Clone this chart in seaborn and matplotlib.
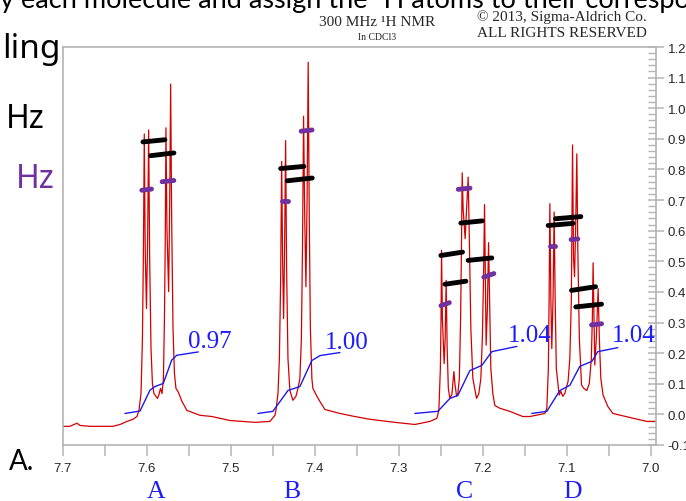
import numpy as np
import pandas as pd
import matplotlib
matplotlib.use("Agg")
import matplotlib.pyplot as plt
from matplotlib.ticker import MultipleLocator
import seaborn as sns

# ---------------- data ----------------
# spectrum trace (ppm, intensity), left to right
base_left_ppm = [7.7000, 7.6917, 7.6869, 7.6833, 7.6798, 7.6679, 7.6405, 7.6321, 7.6238, 7.6167, 7.6119]
base_left_int = [-0.039, -0.039, -0.033, -0.029, -0.036, -0.039, -0.039, -0.033, -0.023, -0.016, -0.007]

grpA_ppm = [7.6095, 7.6071, 7.6054, 7.6042, 7.6032, 7.6021, 7.6006, 7.5992, 7.5980, 7.5968, 7.5952,
            7.5935, 7.5917, 7.5893, 7.5875, 7.5857, 7.5839, 7.5821, 7.5804, 7.5792, 7.5782, 7.5774,
            7.5762, 7.5742, 7.5729, 7.5718, 7.5706, 7.5690, 7.5673, 7.5655, 7.5631, 7.5607, 7.5583,
            7.5524, 7.5369, 7.5226, 7.5012, 7.4714, 7.4536, 7.4476]
grpA_int = [0.013, 0.068, 0.248, 0.541, 0.916, 0.541, 0.346, 0.574, 0.929, 0.509, 0.215,
            0.101, 0.068, 0.059, 0.052, 0.065, 0.085, 0.068, 0.117, 0.313, 0.574, 0.936,
            0.606, 0.401, 0.704, 1.079, 0.639, 0.280, 0.134, 0.085, 0.075, 0.059, 0.042,
            0.013, -0.003, -0.007, -0.020, -0.026, -0.023, -0.003]

grpB_ppm = [7.4464, 7.4440, 7.4423, 7.4408, 7.4396, 7.4385, 7.4373, 7.4361, 7.4349, 7.4337, 7.4321,
            7.4298, 7.4262, 7.4226, 7.4202, 7.4179, 7.4161, 7.4148, 7.4135, 7.4121, 7.4107, 7.4093,
            7.4080, 7.4067, 7.4054, 7.4036, 7.4024, 7.3976, 7.3940, 7.3881, 7.3702, 7.3524, 7.3345,
            7.3048, 7.2810, 7.2631, 7.2548]
grpB_int = [0.013, 0.068, 0.183, 0.443, 0.826, 0.509, 0.313, 0.541, 0.894, 0.476, 0.183,
            0.078, 0.046, 0.059, 0.085, 0.117, 0.248, 0.541, 0.974, 0.639, 0.417, 0.704,
            1.150, 0.639, 0.280, 0.117, 0.085, 0.059, 0.042, 0.016, 0.003, -0.007, -0.016,
            -0.026, -0.033, -0.023, -0.013]

grpC_ppm = [7.2524, 7.2506, 7.2498, 7.2492, 7.2482, 7.2461, 7.2449, 7.2437, 7.2425, 7.2411, 7.2393,
            7.2369, 7.2357, 7.2345, 7.2333, 7.2313, 7.2298, 7.2280, 7.2265, 7.2255, 7.2246, 7.2235,
            7.2211, 7.2187, 7.2175, 7.2163, 7.2143, 7.2119, 7.2075, 7.2048, 7.2024, 7.2006, 7.1990,
            7.1980, 7.1970, 7.1961, 7.1946, 7.1932, 7.1920, 7.1905, 7.1881, 7.1857, 7.1798, 7.1679,
            7.1524, 7.1440, 7.1262]
grpC_int = [0.013, 0.150, 0.313, 0.536, 0.313, 0.166, 0.248, 0.438, 0.215, 0.085, 0.052,
            0.065, 0.101, 0.140, 0.101, 0.059, 0.068, 0.117, 0.313, 0.541, 0.789, 0.672,
            0.574, 0.704, 0.775, 0.606, 0.280, 0.117, 0.052, 0.068, 0.117, 0.248, 0.476,
            0.685, 0.443, 0.226, 0.346, 0.561, 0.378, 0.150, 0.068, 0.029, 0.020, 0.010,
            -0.007, -0.007, 0.003]

grpD_ppm = [7.1238, 7.1220, 7.1211, 7.1202, 7.1190, 7.1179, 7.1164, 7.1151, 7.1139, 7.1125, 7.1092,
            7.1071, 7.1048, 7.1024, 7.0985, 7.0964, 7.0946, 7.0932, 7.0920, 7.0908, 7.0895, 7.0881,
            7.0869, 7.0851, 7.0825, 7.0798, 7.0762, 7.0732, 7.0708, 7.0696, 7.0687, 7.0676, 7.0667,
            7.0649, 7.0627, 7.0613, 7.0595, 7.0568, 7.0512, 7.0452, 7.0250, 7.0048, 6.9938]
grpD_int = [0.020, 0.150, 0.378, 0.688, 0.378, 0.215, 0.378, 0.661, 0.378, 0.150, 0.063,
            0.075, 0.059, 0.068, 0.108, 0.183, 0.378, 0.880, 0.509, 0.450, 0.606, 0.851,
            0.541, 0.248, 0.096, 0.085, 0.078, 0.101, 0.183, 0.313, 0.495, 0.313, 0.161,
            0.248, 0.411, 0.248, 0.117, 0.063, 0.026, 0.003, -0.010, -0.023, -0.023]

# integral curves
intA_ppm = [7.6262, 7.6083, 7.5964, 7.5905, 7.5806, 7.5706, 7.5646, 7.5389]
intA_val = [0.003, 0.011, 0.079, 0.091, 0.101, 0.177, 0.193, 0.204]
intB_ppm = [7.4679, 7.4500, 7.4321, 7.4179, 7.4036, 7.3940, 7.3702]
intB_val = [0.003, 0.010, 0.078, 0.091, 0.176, 0.192, 0.202]
intC_ppm = [7.2810, 7.2536, 7.2393, 7.2298, 7.2155, 7.2012, 7.1893, 7.1595]
intC_val = [0.003, 0.010, 0.052, 0.062, 0.143, 0.160, 0.205, 0.222]
intD_ppm = [7.1417, 7.1238, 7.1083, 7.0964, 7.0845, 7.0702, 7.0631, 7.0393]
intD_val = [0.003, 0.010, 0.078, 0.095, 0.157, 0.173, 0.205, 0.218]

int_labels = ["0.97", "1.00", "1.04", "1.04"]
int_label_ppm = [7.5512, 7.3881, 7.1702, 7.0464]
int_label_val = [0.241, 0.238, 0.258, 0.258]

# hand-drawn black dashes (start ppm, start val, end ppm, end val)
dash_x0 = [7.6048, 7.5956, 7.4408, 7.4330, 7.2500, 7.2452, 7.2262, 7.2175, 7.1222, 7.1135, 7.0944, 7.0893]
dash_y0 = [0.890, 0.845, 0.803, 0.763, 0.519, 0.425, 0.625, 0.503, 0.617, 0.639, 0.405, 0.351]
dash_x1 = [7.5786, 7.5679, 7.4131, 7.4032, 7.2242, 7.2202, 7.2008, 7.1893, 7.0925, 7.0833, 7.0658, 7.0587]
dash_y1 = [0.897, 0.854, 0.810, 0.772, 0.530, 0.435, 0.632, 0.511, 0.624, 0.646, 0.417, 0.360]

# hand-drawn purple marks
mark_x0 = [7.6062, 7.5820, 7.4164, 7.4389, 7.2293, 7.2499, 7.1989, 7.1205, 7.0949, 7.0706]
mark_y0 = [0.732, 0.760, 0.925, 0.697, 0.735, 0.355, 0.448, 0.551, 0.571, 0.292]
mark_x1 = [7.5946, 7.5680, 7.4034, 7.4319, 7.2153, 7.2399, 7.1869, 7.1135, 7.0869, 7.0586]
mark_y1 = [0.736, 0.764, 0.929, 0.697, 0.739, 0.365, 0.460, 0.551, 0.573, 0.296]

x_tick_vals = [7.7, 7.6, 7.5, 7.4, 7.3, 7.2, 7.1, 7.0]
y_tick_vals = [-0.1, 0.0, 0.1, 0.2, 0.3, 0.4, 0.5, 0.6, 0.7, 0.8, 0.9, 1.0, 1.1, 1.2]
group_letters = ["A", "B", "C", "D"]
group_letter_ppm = [7.5893, 7.4274, 7.2214, 7.0929]

# ---------------- drawing ----------------
sns.set_style("white")
plt.rcParams['font.family'] = ['Liberation Sans', 'DejaVu Sans']

fig = plt.figure(figsize=(6.86, 5.02), dpi=100)
ax = fig.add_axes([63/686, 1-446/502, 593/686, 398/502])

spec = pd.DataFrame({
    "ppm": base_left_ppm + grpA_ppm + grpB_ppm + grpC_ppm + grpD_ppm,
    "intensity": base_left_int + grpA_int + grpB_int + grpC_int + grpD_int,
})
sns.lineplot(data=spec, x="ppm", y="intensity", sort=False, estimator=None,
             color="#d40000", linewidth=0.9, ax=ax)

for xs, ys in [(intA_ppm, intA_val), (intB_ppm, intB_val), (intC_ppm, intC_val), (intD_ppm, intD_val)]:
    sns.lineplot(x=xs, y=ys, sort=False, estimator=None, color="#1a1aee", linewidth=1.0, ax=ax)

for t, px, py in zip(int_labels, int_label_ppm, int_label_val):
    ax.text(px, py, t, ha="left", va="center", color="#1c1cff",
            fontsize=18, family=["Liberation Serif", "DejaVu Serif"])

for a, b, c, d in zip(dash_x0, dash_y0, dash_x1, dash_y1):
    ax.plot([a, c], [b, d], color="black", linewidth=3.5, solid_capstyle="round", zorder=5)
for a, b, c, d in zip(mark_x0, mark_y0, mark_x1, mark_y1):
    ax.plot([a, c], [b, d], color="#7030a0", linewidth=3.5, solid_capstyle="round", zorder=6)

ax.set_xlim(7.7, 6.9938)
ax.set_ylim(-0.1, 1.2)
ax.set_xlabel("")
ax.set_ylabel("")

spine_col = "#b4b4b4"
for s in ax.spines.values():
    s.set_color(spine_col)
    s.set_linewidth(1.2)

ax.set_xticks(x_tick_vals)
ax.set_xticklabels([f"{v:.1f}" for v in x_tick_vals])
ax.xaxis.set_minor_locator(MultipleLocator(0.05))
ax.tick_params(axis="x", which="both", direction="out", length=8, width=1.1,
               color=spine_col, labelsize=9.5, pad=4, bottom=True, top=False)

ax.yaxis.tick_right()
ax.set_yticks(y_tick_vals)
ax.set_yticklabels([f"{v:.1f}" for v in y_tick_vals])
ax.yaxis.set_minor_locator(MultipleLocator(0.02))
ax.tick_params(axis="y", which="major", direction="inout", length=11, width=1.1,
               color=spine_col, labelsize=9.5, pad=3, right=True, left=False)
ax.tick_params(axis="y", which="minor", direction="in", length=6, width=1.0,
               color=spine_col, right=True, left=False)

# header texts
serif = ["Liberation Serif", "DejaVu Serif"]
fig.text(0.0, 1 - 8/502, "y each molecule and assign the \u00b9H atoms to their correspo",
         ha="left", va="baseline", fontsize=19.5, family=["Lato", "DejaVu Sans"], color="black")
fig.text(377/686, 1 - 23/502, "300 MHz \u00b9H NMR", ha="center", va="center",
         fontsize=11, family=serif)
fig.text(377/686, 1 - 38/502, "In CDCl3", ha="center", va="center", fontsize=7, family=serif)
fig.text(562/686, 1 - 17/502, "\u00a9 2013, Sigma-Aldrich Co.", ha="center", va="center",
         fontsize=11, family=serif)
fig.text(562/686, 1 - 34/502, "ALL RIGHTS RESERVED", ha="center", va="center",
         fontsize=11, family=serif)

# handwriting
hand = ["Noto Sans", "DejaVu Sans"]
fig.text(2/686, 1 - 58/502, "ling", ha="left", va="baseline", fontsize=24, fontweight="bold",
         family=hand, color="black")
fig.text(6/686, 1 - 128/502, "Hz", ha="left", va="baseline", fontsize=23, fontweight="bold",
         family=hand, color="black")
fig.text(16/686, 1 - 188/502, "Hz", ha="left", va="baseline", fontsize=23, fontweight="bold",
         family=hand, color="#7030a0")

fig.text(9/686, 1 - 462/502, "A.", ha="left", va="center", fontsize=20,
         family=["Lato", "DejaVu Sans"], color="black")

for letter, p in zip(group_letters, group_letter_ppm):
    xf = (63 + (7.7 - p) * 840) / 686
    fig.text(xf, 1 - 492/502, letter, ha="center", va="center", fontsize=18.5,
             family=serif, color="#1c1cff")

fig.savefig("out.png", dpi=100)
